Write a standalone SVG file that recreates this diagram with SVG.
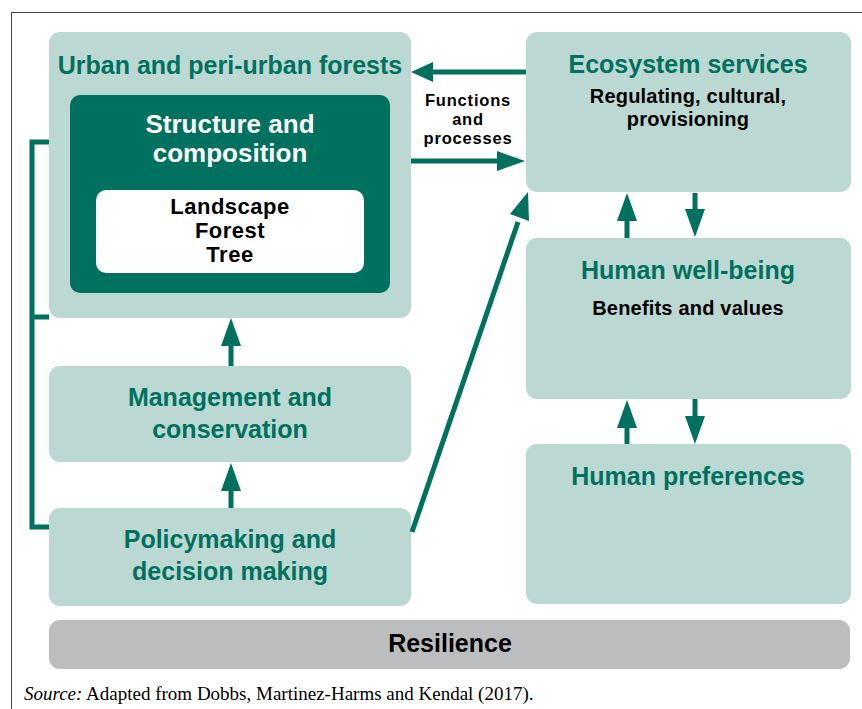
<svg xmlns="http://www.w3.org/2000/svg" width="862" height="709" viewBox="0 0 862 709">
<defs>
<style>
.box{fill:#BCD8D2}
.t{font-family:"Liberation Sans",Arial,sans-serif;font-weight:bold;text-anchor:middle}
.teal{fill:#00715E;font-size:25px}
.blk{fill:#000;font-size:20px;letter-spacing:0.2px}
.ln{stroke:#00715E;stroke-width:5;fill:none}
.hd{fill:#00715E}
.fp{font-size:16.5px;letter-spacing:0.8px;fill:#000}
</style>
</defs>
<rect width="862" height="709" fill="#fff"/>
<path d="M11.5 709 V12.5 H862" fill="none" stroke="#444" stroke-width="1"/>

<g id="urban">
<rect class="box" x="49" y="32" width="362" height="286" rx="11"/>
<text class="t teal" x="230" y="74">Urban and peri-urban forests</text>
</g>
<g id="structure">
<rect x="70" y="95" width="320" height="198" rx="10" fill="#00715E"/>
<text class="t" x="230" y="133" fill="#fff" font-size="26">Structure and</text>
<text class="t" x="230" y="162" fill="#fff" font-size="26">composition</text>
</g>
<g id="scales">
<rect x="96" y="190" width="268" height="83" rx="10" fill="#fff"/>
<text class="t" x="230" y="214" font-size="22" fill="#000" letter-spacing="0.5">Landscape</text>
<text class="t" x="230" y="238" font-size="22" fill="#000" letter-spacing="0.5">Forest</text>
<text class="t" x="230" y="262" font-size="22" fill="#000" letter-spacing="0.5">Tree</text>
</g>
<g id="management">
<rect class="box" x="49" y="366" width="362" height="96" rx="11"/>
<text class="t teal" x="230" y="406">Management and</text>
<text class="t teal" x="230" y="438">conservation</text>
</g>
<g id="policy">
<rect class="box" x="49" y="508" width="362" height="98" rx="11"/>
<text class="t teal" x="230" y="548">Policymaking and</text>
<text class="t teal" x="230" y="580">decision making</text>
</g>
<g id="ecosystem">
<rect class="box" x="526" y="32" width="325" height="160" rx="11"/>
<text class="t teal" x="688" y="73">Ecosystem services</text>
<text class="t blk" x="688" y="103">Regulating, cultural,</text>
<text class="t blk" x="688" y="126">provisioning</text>
</g>
<g id="wellbeing">
<rect class="box" x="526" y="238" width="325" height="161" rx="11"/>
<text class="t teal" x="688" y="279">Human well-being</text>
<text class="t blk" x="688" y="315">Benefits and values</text>
</g>
<g id="preferences">
<rect class="box" x="526" y="444" width="325" height="160" rx="11"/>
<text class="t teal" x="688" y="485">Human preferences</text>
</g>
<g id="resilience">
<rect x="49" y="620" width="801" height="49" rx="11" fill="#BCBDBF"/>
<text class="t" x="450" y="652" font-size="25" fill="#000">Resilience</text>
</g>

<g id="connectors">
<text class="t fp" x="468" y="106">Functions</text>
<text class="t fp" x="468" y="125">and</text>
<text class="t fp" x="468" y="144">processes</text>
<!-- ES to Urban -->
<line class="ln" x1="526" y1="72" x2="430" y2="72"/>
<polygon class="hd" points="411,72 433,62 433,82"/>
<!-- Urban to ES -->
<line class="ln" x1="411" y1="161" x2="500" y2="161"/>
<polygon class="hd" points="525,161 497,151 497,171"/>
<!-- ES/HWB -->
<line class="ln" x1="627" y1="238" x2="627" y2="218"/>
<polygon class="hd" points="627,193 617,221 637,221"/>
<line class="ln" x1="695" y1="193" x2="695" y2="212"/>
<polygon class="hd" points="695,237 685,209 705,209"/>
<!-- HWB/HP -->
<line class="ln" x1="627" y1="444" x2="627" y2="424"/>
<polygon class="hd" points="627,400 617,428 637,428"/>
<line class="ln" x1="695" y1="399" x2="695" y2="418"/>
<polygon class="hd" points="695,444 685,416 705,416"/>
<!-- Management to Urban -->
<line class="ln" x1="231" y1="366" x2="231" y2="342"/>
<polygon class="hd" points="231,318 221,346 241,346"/>
<!-- Policy to Management -->
<line class="ln" x1="231" y1="508" x2="231" y2="487"/>
<polygon class="hd" points="231,463 221,491 241,491"/>
<!-- Policy to ES diagonal -->
<line class="ln" x1="412" y1="532" x2="518" y2="222" stroke-width="4.5"/>
<polygon class="hd" points="528,192 510,214 529,221"/>
<!-- bracket -->
<path class="ln" stroke-width="4.5" d="M49 142 H32 V527 H49 M32 317 H49"/>
</g>

<text x="24" y="700" font-family="'Liberation Serif','Times New Roman',serif" font-size="19" fill="#000"><tspan font-style="italic">Source:</tspan> Adapted from Dobbs, Martinez-Harms and Kendal (2017).</text>
</svg>
